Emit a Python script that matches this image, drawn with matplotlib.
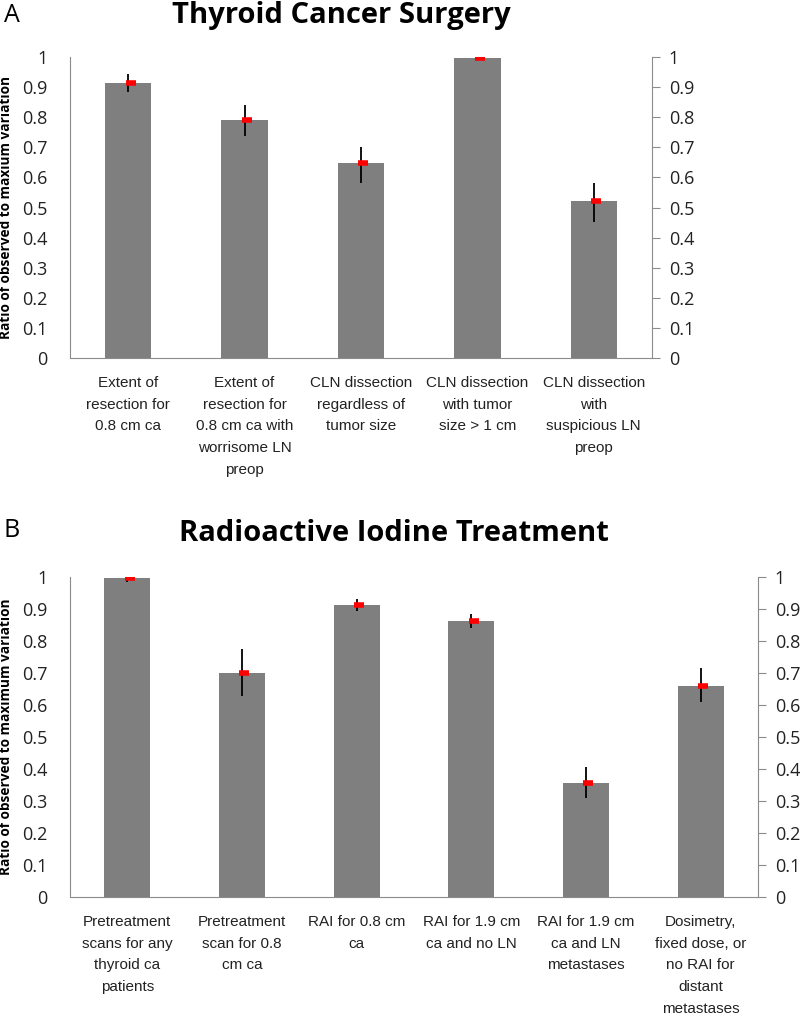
import matplotlib.pyplot as plt
import numpy as np

# panel A data
labels_a = ['Extent of\nresection for\n0.8 cm ca',
            'Extent of\nresection for\n0.8 cm ca with\nworrisome LN\npreop',
            'CLN dissection\nregardless of\ntumor size',
            'CLN dissection\nwith tumor\nsize > 1 cm',
            'CLN dissection\nwith\nsuspicious LN\npreop']
vals_a = [0.915, 0.79, 0.648, 0.998, 0.52]
low_a = [0.884, 0.738, 0.582, 0.99, 0.452]
high_a = [0.943, 0.840, 0.70, 1.0, 0.582]

# panel B data
labels_b = ['Pretreatment\nscans for any\nthyroid ca\npatients',
            'Pretreatment\nscan for 0.8\ncm ca',
            'RAI for 0.8 cm\nca',
            'RAI for 1.9 cm\nca and no LN',
            'RAI for 1.9 cm\nca and LN\nmetastases',
            'Dosimetry,\nfixed dose, or\nno RAI for\ndistant\nmetastases']
vals_b = [0.998, 0.70, 0.912, 0.862, 0.357, 0.66]
low_b = [0.985, 0.627, 0.893, 0.840, 0.309, 0.609]
high_b = [1.0, 0.775, 0.930, 0.883, 0.406, 0.716]

yticks = np.arange(0, 1.01, 0.1)
ytick_labels = ['0'] + ['%.1f' % t for t in yticks[1:-1]] + ['1']

sans = ['Open Sans', 'DejaVu Sans']
cat_font = ['Liberation Sans', 'DejaVu Sans']
grey = '#7f7f7f'
spine_col = '#8c8c8c'


def draw_panel(fig, rect, labels, vals, low, high, title, title_x, title_y, ylabel):
    ax = fig.add_axes(rect)
    x = np.arange(len(vals))
    ax.bar(x, vals, width=0.4, color=grey, zorder=2)
    err = [np.array(vals) - np.array(low), np.array(high) - np.array(vals)]
    ax.errorbar(x, vals, yerr=err, fmt='none', ecolor='black', elinewidth=1.3,
                capsize=0, zorder=3)
    ax.plot(x + 0.02, vals, linestyle='none', marker='_', color='red',
            markersize=7, markeredgewidth=4, zorder=4)
    ax.set_xlim(-0.5, len(vals) - 0.5)
    ax.set_ylim(0, 1)
    ax.set_yticks(yticks)
    ax.set_yticklabels(ytick_labels, fontsize=13, family=sans, color='#222222')
    ax.tick_params(axis='y', length=0, pad=16)
    ax.set_xticks(x)
    ax.set_xticklabels(labels, fontsize=11, family=cat_font, linespacing=1.7,
                       color='#222222')
    ax.tick_params(axis='x', length=0, pad=13)
    ax.spines['top'].set_visible(False)
    ax.spines['right'].set_visible(False)
    ax.spines['left'].set_color(spine_col)
    ax.spines['bottom'].set_color(spine_col)
    ax.set_ylabel(ylabel, fontsize=9.8, fontweight='bold', family=sans, labelpad=7)

    ax2 = ax.twinx()
    ax2.set_ylim(0, 1)
    ax2.set_yticks(yticks)
    ax2.set_yticklabels(ytick_labels, fontsize=13, family=sans, color='#222222')
    ax2.tick_params(axis='y', length=6, color=spine_col, pad=6)
    for s in ['top', 'left', 'bottom']:
        ax2.spines[s].set_visible(False)
    ax2.spines['right'].set_color(spine_col)

    fig.text(title_x, title_y, title, fontsize=21, fontweight='bold',
             family=sans, ha='center', va='center')
    return ax


fig = plt.figure(figsize=(8, 10.22), dpi=100)

draw_panel(fig, [0.0875, 0.6497, 0.7275, 0.2945], labels_a, vals_a, low_a, high_a,
           'Thyroid Cancer Surgery', 341 / 800, 1 - 16 / 1022,
           'Ratio of observed to maxium variation')
draw_panel(fig, [0.0875, 0.1223, 0.86, 0.3131], labels_b, vals_b, low_b, high_b,
           'Radioactive Iodine Treatment', 394 / 800, 1 - 533 / 1022,
           'Ratio of observed to maximum variation')

fig.text(0.005, 1 - 15 / 1022, 'A', fontsize=18, family=sans, va='center', ha='left')
fig.text(0.004, 1 - 530 / 1022, 'B', fontsize=18, family=sans, va='center', ha='left')

plt.savefig('out.png', dpi=100)
